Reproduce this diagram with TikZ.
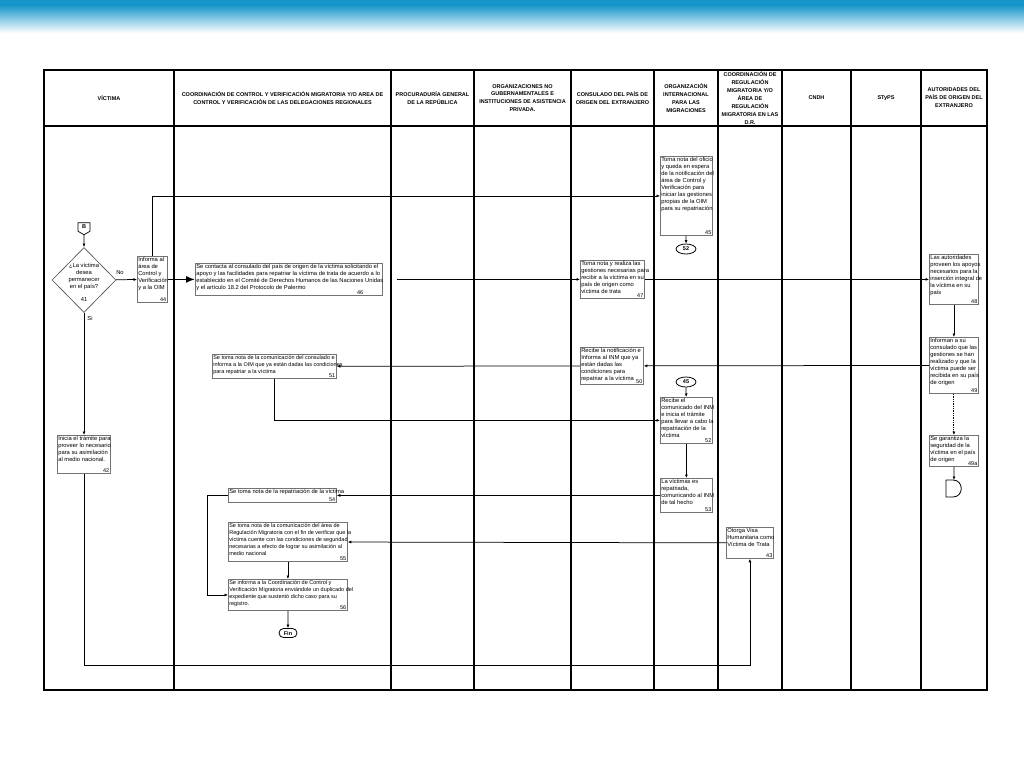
\documentclass[tikz,border=0pt]{standalone}
\usepackage{fontspec}
\setmainfont{Liberation Sans}
\usetikzlibrary{shapes.geometric,shapes.symbols,shapes.misc,arrows.meta}
\definecolor{banner}{RGB}{22,150,202}
\newcommand{\mybox}[7]{%
  \node[box, minimum width=#3, minimum height=#4] (#1) at #2 {};
  \node[txt, #7] at (#1.north west) {#5};
  \node[num] at (#1.south east) {#6};
}
\begin{document}
\begin{tikzpicture}[x=1pt,y=-1pt,
  lane/.style={draw=black, line width=1.1pt},
  box/.style={draw=black!55, line width=0.8pt, fill=white, inner sep=0pt, anchor=north west},
  txt/.style={font=\fontsize{5.8}{7}\selectfont, align=left, anchor=north west, inner sep=1.1pt},
  num/.style={font=\fontsize{5.5}{6}\selectfont, anchor=south east, inner sep=1.3pt},
  hd/.style={font=\fontsize{5.5}{7.9}\selectfont\bfseries, align=center},
  conn/.style={draw=black, line width=0.75pt, -{Latex[length=3.5pt,width=3pt]}},
  small/.style={font=\fontsize{5.5}{7}\selectfont},
  bnum/.style={font=\fontsize{5.5}{6}\selectfont\bfseries},
  lbl/.style={font=\fontsize{5.8}{7}\selectfont}
]
\useasboundingbox (0,0) rectangle (1024,768);
\fill[white] (0,0) rectangle (1024,768);
% top banner
\fill[banner] (0,0) rectangle (1024,5);
\shade[top color=banner, bottom color=white] (0,5) rectangle (1024,33);

% table
\draw[lane] (44,70) rectangle (987,690);
\draw[lane] (44,126) -- (987,126);
\foreach \x in {174,391,474,571,654,718,782,851,921}
  \draw[lane] (\x,70) -- (\x,690);

% headers
\node[hd] (h1) at (109,98) {VÍCTIMA};
\node[hd] (h2) at (282.5,98) {COORDINACIÓN DE CONTROL Y VERIFICACIÓN MIGRATORIA Y/O AREA DE\\CONTROL Y VERIFICACIÓN DE LAS DELEGACIONES REGIONALES};
\node[hd] (h3) at (432.5,98) {PROCURADURÍA GENERAL\\DE LA REPÚBLICA};
\node[hd] (h4) at (522.5,98) {ORGANIZACIONES NO\\GUBERNAMENTALES E\\INSTITUCIONES DE ASISTENCIA\\PRIVADA.};
\node[hd] (h5) at (612.5,98) {CONSULADO DEL PAÍS DE\\ORIGEN DEL EXTRANJERO};
\node[hd] (h6) at (686,98) {ORGANIZACIÓN\\INTERNACIONAL\\PARA LAS\\MIGRACIONES};
\node[hd] (h7) at (750,98) {COORDINACIÓN DE\\REGULACIÓN\\MIGRATORIA Y/O\\ÁREA DE\\REGULACIÓN\\MIGRATORIA EN LAS\\D.R.};
\node[hd] (h8) at (816.5,98) {CNDH};
\node[hd] (h9) at (886,98) {STyPS};
\node[hd] (h10) at (954,98) {AUTORIDADES DEL\\PAÍS DE ORIGEN DEL\\EXTRANJERO};

% start connector and decision
\node[signal, signal to=south, signal pointer angle=120, draw=black, line width=0.7pt,
      minimum width=12, minimum height=10, inner sep=0.5pt, bnum] (B) at (84,227) {B};
\node[diamond, draw=black!60, line width=0.8pt, minimum width=64, minimum height=65, inner sep=0pt] (d41) at (84,280) {};
\node[lbl, align=center] (d41t) at (84,276.5) {¿La víctima\\desea\\permanecer\\en el país?};
\node[lbl] (d41n) at (84,299.5) {41};
\node[lbl] (lno) at (120,273) {No};
\node[lbl] (lsi) at (90,318) {Si};

% boxes
\mybox{b45}{(660,156)}{52}{79}{Toma nota del oficio\\y queda en espera\\de la notificación del\\área de Control y\\Verificación para\\iniciar las gestiones\\propias de la OIM\\para su repatriación}{45}{}
\mybox{b44}{(137,256)}{30}{46}{Informa al\\área de\\Control y\\Verificación\\y a la OIM}{44}{}
\mybox{b46}{(195,263)}{187}{32}{Se contacta al consulado del país de origen de la víctima solicitando el\\apoyo y las facilidades para repatriar la víctima de trata de acuerdo a lo\\establecido en el Comité de Derechos Humanos de las Naciones Unidas\\y el artículo 18.2 del Protocolo de Palermo}{}{}
\node[num] (n46) at ([xshift=-18pt]b46.south east) {46};
\mybox{b47}{(580,260)}{64}{38}{Toma nota y realiza las\\gestiones necesarias para\\recibir a la víctima en su\\país de origen como\\víctima de trata}{47}{}
\mybox{b48}{(929,254)}{49}{50}{Las autoridades\\proveen los apoyos\\necesarios para la\\inserción integral de\\la víctima en su\\país}{48}{}
\mybox{b49}{(929,337)}{49}{56}{Informan a su\\consulado que las\\gestiones se han\\realizado y que la\\víctima puede ser\\recibida en su país\\de origen}{49}{}
\mybox{b49a}{(929,435)}{49}{31}{Se garantiza la\\seguridad de la\\víctima en el país\\de origen}{49a}{}
\mybox{b50}{(580,347)}{63}{37}{Recibe la notificación e\\Informa al INM que ya\\están dadas las\\condiciones para\\repatriar a la víctima}{50}{}
\mybox{b51}{(212,354)}{124}{24}{Se toma nota de la comunicación del consulado e\\informa a la OIM que ya están dadas las condiciones\\para repatriar a la víctima}{51}{small}
\mybox{b52}{(660,397)}{52}{46}{Recibe el\\comunicado del INM\\e inicia el trámite\\para llevar a cabo la\\repatriación de la\\víctima}{52}{}
\mybox{b53}{(660,478)}{52}{34}{La víctimas es\\repatriada,\\comunicando al INM\\de tal hecho}{53}{}
\mybox{b54}{(228,488)}{108}{14}{Se toma nota de la repatriación de la víctima}{54}{}
\mybox{b43}{(726,527)}{47}{31}{Otorga Visa\\Humanitaria como\\Víctima de Trata}{43}{}
\mybox{b55}{(228,522)}{119}{39}{Se toma nota de la comunicación del área de\\Regulación Migratoria con el fin de verificar que la\\víctima cuente con las condiciones de seguridad\\necesarias a efecto de lograr su asimilación al\\medio nacional}{55}{small}
\mybox{b56}{(228,579)}{119}{31}{Se informa a la Coordinación de Control y\\Verificación Migratoria enviándole un duplicado del\\expediente que sustentó dicho caso para su\\registro.}{56}{small}
\mybox{b42}{(57,435)}{53}{38}{Inicia el trámite para\\proveer lo necesario\\para su asimilación\\al medio nacional.}{42}{}

% terminators
\node[ellipse, draw=black, line width=0.8pt, minimum width=20, minimum height=10, inner sep=0pt, bnum] (e52) at (686,249) {52};
\node[ellipse, draw=black, line width=0.8pt, minimum width=20, minimum height=10, inner sep=0pt, bnum] (e45) at (686,382) {45};
\node[rounded rectangle, draw=black, line width=0.8pt, minimum width=19, minimum height=9, inner sep=0.5pt, bnum] (fin) at (288,633) {Fin};
\coordinate (dly) at (954,480);
\draw[black, line width=0.8pt, fill=white] (946,480) -- (953,480) .. controls (964,480) and (964,497) .. (953,497) -- (946,497) -- cycle;

% connectors
\draw[conn] (B) -- (d41);
\draw[conn] (d41) -- (b44);
\draw[conn] (d41.south) -- (d41.south |- b42.north);
\draw[conn] (b44.north) |- (b45.west);
\draw[line width=1.4pt, -{Latex[length=9pt,width=7pt]}] (b44) -- (b46);
\draw[conn, shorten <=14pt] (b46) -- (b47);
\draw[conn] (b47) -- (b48);
\draw[conn] (b45) -- (e52);
\draw[conn] (b48) -- (b49);
\draw[conn] (b49) -- (b50);
\draw[conn, densely dotted, line width=1pt] (b49) -- (b49a);
\draw[conn] (b49a) -- (dly);
\draw[conn] (b50) -- (b51);
\draw[conn] (b51.south) |- (b52.west);
\draw[conn] (e45) -- (b52);
\draw[conn] (b52) -- (b53);
\draw[conn] (b53) -- (b54);
\draw[conn] (b43) -- (b55);
\draw[conn] (b55) -- (b56);
\draw[conn] (b56) -- (fin);
\draw[conn] (b54.west) -- ++(-21,0) |- (b56.west);
\draw[conn] (b42.south) -- ++(0,192) -| (b43.south);
\end{tikzpicture}
\end{document}
